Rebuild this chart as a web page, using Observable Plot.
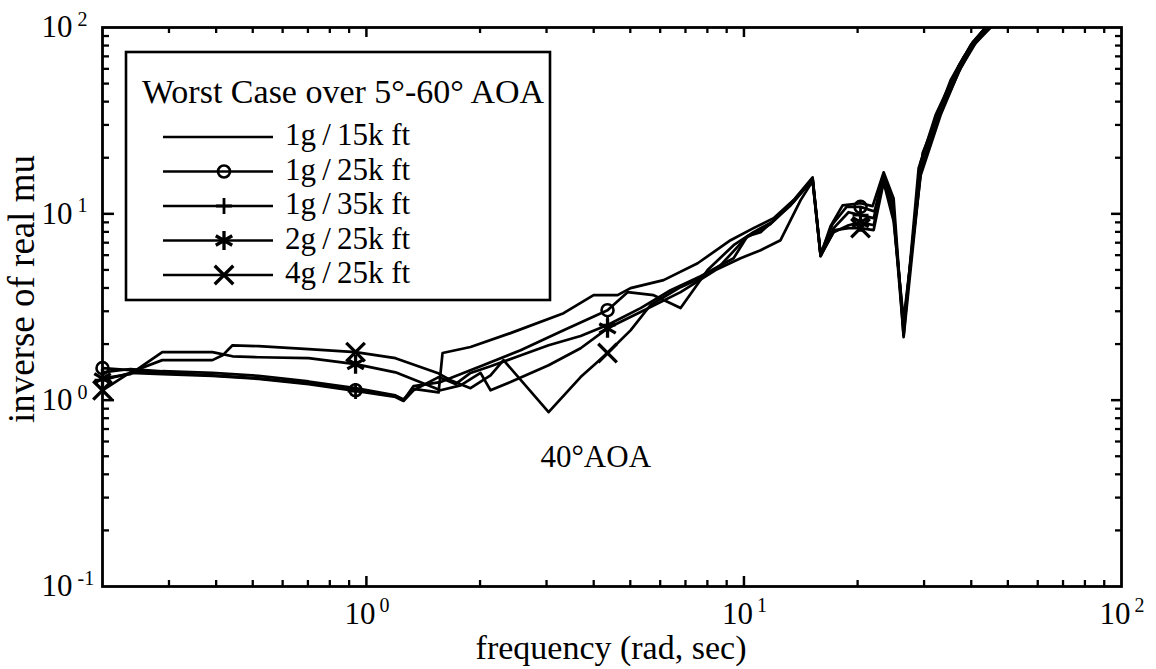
<!DOCTYPE html>
<html>
<head>
<meta charset="utf-8">
<script src="https://cdn.jsdelivr.net/npm/d3@7"></script>
<script src="https://cdn.jsdelivr.net/npm/@observablehq/plot@0.6"></script>
<style>
  html, body { margin: 0; padding: 0; background: #fff; }
  #chart svg { display: block; }
</style>
</head>
<body>
<div id="chart"></div>
<script>
// Worst-case inverse of real mu vs frequency, one series per flight condition.
const seriesNames = ["1g/15k ft", "1g/25k ft", "1g/35k ft", "2g/25k ft", "4g/25k ft"];
const legendLabels = ["1g\u2009/\u200915k ft", "1g\u2009/\u200925k ft", "1g\u2009/\u200935k ft", "2g\u2009/\u200925k ft", "4g\u2009/\u200925k ft"];
const seriesSymbols = [null, "circle", "plus", "asterisk", "times"];
const markerFreqs = [0.2, 0.936, 4.352, 20.36];

// [frequency (rad/sec), inverse of real mu]
const g1alt15 = [[0.2,1.41],[0.237,1.47],[0.288,1.43],[0.391,1.40],[0.518,1.35],[0.703,1.26],[0.936,1.16],[1.194,1.06],[1.254,1.01],[1.333,1.15],[1.553,1.10],[1.591,1.79],[1.887,1.93],[2.408,2.29],[3.329,2.93],[3.997,3.66],[4.627,3.66],[5.008,3.99],[6.126,4.41],[7.54,5.43],[9.218,7.22],[10.6,8.38],[11.98,9.48],[13.54,11.85],[15.2,15.7],[15.96,6.0],[16.96,8.59],[18.25,11.1],[20.36,11.4],[21.92,11.0],[23.44,16.7],[24.91,12.1],[26.48,2.18],[29.74,21.2],[31.22,27.1],[35.27,52.2],[38.18,69.4],[41.59,88.8],[43.67,100]];
const g1alt25 = [[0.2,1.485],[0.237,1.45],[0.288,1.40],[0.391,1.36],[0.518,1.31],[0.703,1.23],[0.936,1.13],[1.194,1.05],[1.254,1.0],[1.333,1.19],[1.572,1.25],[2.006,1.52],[2.561,1.855],[3.329,2.37],[4.352,3.04],[4.918,3.80],[5.764,3.66],[6.795,3.12],[8.012,4.99],[9.388,6.79],[10.6,7.97],[11.98,9.14],[13.54,11.6],[15.2,15.5],[15.96,6.08],[17.17,8.81],[18.7,10.9],[20.36,10.9],[22.18,10.3],[23.44,16.3],[24.76,11.4],[26.48,2.23],[29.02,17.6],[32.18,33.9],[36.36,57.6],[39.86,80.4],[43.67,100]];
const g1alt35 = [[0.2,1.28],[0.237,1.40],[0.288,1.38],[0.391,1.35],[0.518,1.30],[0.703,1.22],[0.936,1.12],[1.194,1.04],[1.254,0.99],[1.333,1.13],[1.553,1.33],[1.722,1.22],[1.887,1.40],[2.132,1.52],[2.483,1.70],[3.038,1.97],[3.693,2.21],[4.352,2.53],[5.324,3.12],[6.393,3.89],[7.678,4.63],[9.388,5.78],[10.22,7.59],[11.07,7.97],[13.29,11.1],[15.2,15.2],[15.96,5.93],[17.28,8.38],[18.93,10.2],[20.36,9.84],[22.06,9.48],[23.44,15.5],[24.91,10.5],[26.48,2.37],[29.38,18.9],[33.18,36.9],[37.03,62.1],[40.35,83.5],[43.67,100]];
const g2alt25 = [[0.2,1.31],[0.237,1.38],[0.288,1.81],[0.391,1.81],[0.442,1.72],[0.518,1.70],[0.703,1.68],[0.936,1.56],[1.194,1.41],[1.572,1.13],[1.776,1.20],[2.006,1.40],[2.132,1.13],[2.408,1.25],[3.038,1.54],[3.693,1.90],[4.352,2.43],[5.324,2.97],[6.795,3.80],[8.412,4.99],[9.797,5.78],[11.07,6.38],[12.5,7.22],[14.13,11.85],[15.2,15.0],[15.96,6.0],[17.28,7.97],[18.93,8.69],[20.36,9.02],[22.06,8.69],[23.44,15.2],[24.91,9.84],[26.48,2.53],[29.38,17.2],[33.18,35.2],[37.48,60.5],[41.08,82.5],[44.47,100]];
const g4alt25 = [[0.2,1.13],[0.237,1.41],[0.288,1.64],[0.391,1.64],[0.416,1.74],[0.442,1.97],[0.518,1.95],[0.703,1.88],[0.936,1.81],[1.194,1.68],[1.543,1.40],[1.671,1.28],[1.887,1.16],[2.132,1.36],[2.308,1.64],[3.038,0.862],[3.693,1.33],[4.352,1.79],[5.008,2.37],[5.658,3.24],[6.795,4.04],[7.678,4.52],[8.674,5.30],[10.1,7.41],[11.76,8.81],[13.7,12.1],[15.2,15.4],[15.96,5.93],[17.38,8.18],[18.93,8.38],[20.36,8.38],[22.06,8.18],[23.44,14.8],[24.91,9.14],[26.48,2.69],[29.38,16.1],[33.18,33.9],[37.03,57.6],[40.35,79.5],[45.02,100]];
const seriesValues = [g1alt15, g1alt25, g1alt35, g2alt25, g4alt25];

// axis ticks
const xTickValues = [1, 10, 100];
const xTickExponents = ["0", "1", "2"];
const yTickValues = [0.1, 1, 10, 100];
const yTickExponents = ["-1", "0", "1", "2"];
const xMajorTicks = [1, 10];
const yMajorTicks = [1, 10];
const xMinorTicks = [0.3,0.4,0.5,0.6,0.7,0.8,0.9,2,3,4,5,6,7,8,9,20,30,40,50,60,70,80,90];
const yMinorTicks = [0.2,0.3,0.4,0.5,0.6,0.7,0.8,0.9,2,3,4,5,6,7,8,9,20,30,40,50,60,70,80,90];

const legendTitle = "Worst Case over 5°-60° AOA";
const annotation = [{freq: 4.05, mu: 0.494, text: "40°AOA"}];

const rows = seriesValues.flatMap((pts, i) =>
  pts.map(([freq, mu]) => ({series: seriesNames[i], symbol: seriesSymbols[i], freq, mu})));
const markerRows = rows.filter(d => d.symbol && markerFreqs.includes(d.freq));

const W = 1156, H = 669;
const mL = 102, mR = 35, mT = 27, mB = 83;
const plotW = W - mL - mR, plotH = H - mT - mB;
const font = "Liberation Serif, Times New Roman, serif";
const lw = 2.7;
const symbolR = {circle: 6, plus: 5.2, asterisk: 9, times: 8.5};
const symbolSW = {circle: 2.6, plus: 2.8, asterisk: 3.3, times: 3.3};

const dotMarks = ["circle", "plus", "asterisk", "times"].map(s =>
  Plot.dot(markerRows.filter(d => d.symbol === s), {
    x: "freq", y: "mu", symbol: s, r: symbolR[s],
    stroke: "black", strokeWidth: symbolSW[s], fill: "none"
  }));

const chart = Plot.plot({
  width: W, height: H,
  marginLeft: mL, marginRight: mR, marginTop: mT, marginBottom: mB,
  style: {fontFamily: font, color: "black", background: "white"},
  x: {type: "log", domain: [0.2, 100], axis: null},
  y: {type: "log", domain: [0.1, 100], axis: null},
  marks: [
    Plot.line(rows, {x: "freq", y: "mu", z: "series", stroke: "black", strokeWidth: lw, clip: true}),
    ...dotMarks,
    // inward ticks on all four sides
    Plot.tickX(xMinorTicks, {x: d => d, insetTop: plotH - 6, strokeWidth: 2.3}),
    Plot.tickX(xMinorTicks, {x: d => d, insetBottom: plotH - 6, strokeWidth: 2.3}),
    Plot.tickX(xMajorTicks, {x: d => d, insetTop: plotH - 10, strokeWidth: 2.5}),
    Plot.tickX(xMajorTicks, {x: d => d, insetBottom: plotH - 10, strokeWidth: 2.5}),
    Plot.tickY(yMinorTicks, {y: d => d, insetRight: plotW - 7, strokeWidth: 2.3}),
    Plot.tickY(yMinorTicks, {y: d => d, insetLeft: plotW - 6, strokeWidth: 2.3}),
    Plot.tickY(yMajorTicks, {y: d => d, insetRight: plotW - 12, strokeWidth: 2.5}),
    Plot.tickY(yMajorTicks, {y: d => d, insetLeft: plotW - 10, strokeWidth: 2.5}),
    Plot.frame({stroke: "black", strokeWidth: 2.8}),
    // tick labels as 10 with a raised exponent
    Plot.text(yTickValues, {y: d => d, frameAnchor: "left", text: () => "10", textAnchor: "end", lineAnchor: "middle", dx: -30, fontSize: 31}),
    Plot.text(yTickValues, {y: d => d, frameAnchor: "left", text: (d, i) => yTickExponents[i], textAnchor: "start", lineAnchor: "middle", dx: -25, dy: -8, fontSize: 20}),
    Plot.text(xTickValues, {x: d => d, frameAnchor: "bottom", text: () => "10", textAnchor: "end", lineAnchor: "middle", dx: 9, dy: 28, fontSize: 31}),
    Plot.text(xTickValues, {x: d => d, frameAnchor: "bottom", text: (d, i) => xTickExponents[i], textAnchor: "start", lineAnchor: "middle", dx: 13, dy: 19, fontSize: 20}),
    // axis titles
    Plot.text(["inverse of real mu"], {frameAnchor: "left", text: d => d, textAnchor: "middle", lineAnchor: "middle", rotate: -90, dx: -80, dy: -18, fontSize: 37}),
    Plot.text(["frequency (rad, sec)"], {frameAnchor: "bottom", text: d => d, textAnchor: "middle", lineAnchor: "middle", dx: -1, dy: 62, fontSize: 34}),
    // annotation near the dip
    Plot.text(annotation, {x: "freq", y: "mu", text: "text", fontSize: 31})
  ]
});
document.getElementById("chart").appendChild(chart);

// boxed legend in the upper left of the frame
const svg = d3.select(chart);
const lg = svg.append("g").attr("transform", `translate(${mL + 24},${mT + 25})`)
  .attr("text-anchor", "start");
lg.append("rect").attr("width", 424).attr("height", 248)
  .attr("fill", "white").attr("stroke", "black").attr("stroke-width", 2.6);
lg.append("text").attr("x", 16).attr("y", 51).attr("font-family", font).attr("font-size", 34)
  .attr("text-anchor", "start").attr("fill", "black").text(legendTitle);
const symbolTypes = {circle: d3.symbolCircle, plus: d3.symbolPlus, asterisk: d3.symbolAsterisk, times: d3.symbolTimes};
seriesNames.forEach((name, i) => {
  const ly = 85 + i * 34.5;
  const row = lg.append("g").attr("transform", `translate(0,${ly})`);
  row.append("line").attr("x1", 37).attr("x2", 147).attr("stroke", "black").attr("stroke-width", lw);
  const s = seriesSymbols[i];
  if (s) {
    row.append("path")
      .attr("transform", "translate(98,0)")
      .attr("d", d3.symbol(symbolTypes[s], Math.PI * symbolR[s] * symbolR[s])())
      .attr("fill", "none").attr("stroke", "black").attr("stroke-width", symbolSW[s]);
  }
  row.append("text").attr("x", 159).attr("y", 8).attr("font-family", font).attr("font-size", 31)
    .attr("text-anchor", "start").attr("fill", "black").text(legendLabels[i]);
});
</script>
</body>
</html>
